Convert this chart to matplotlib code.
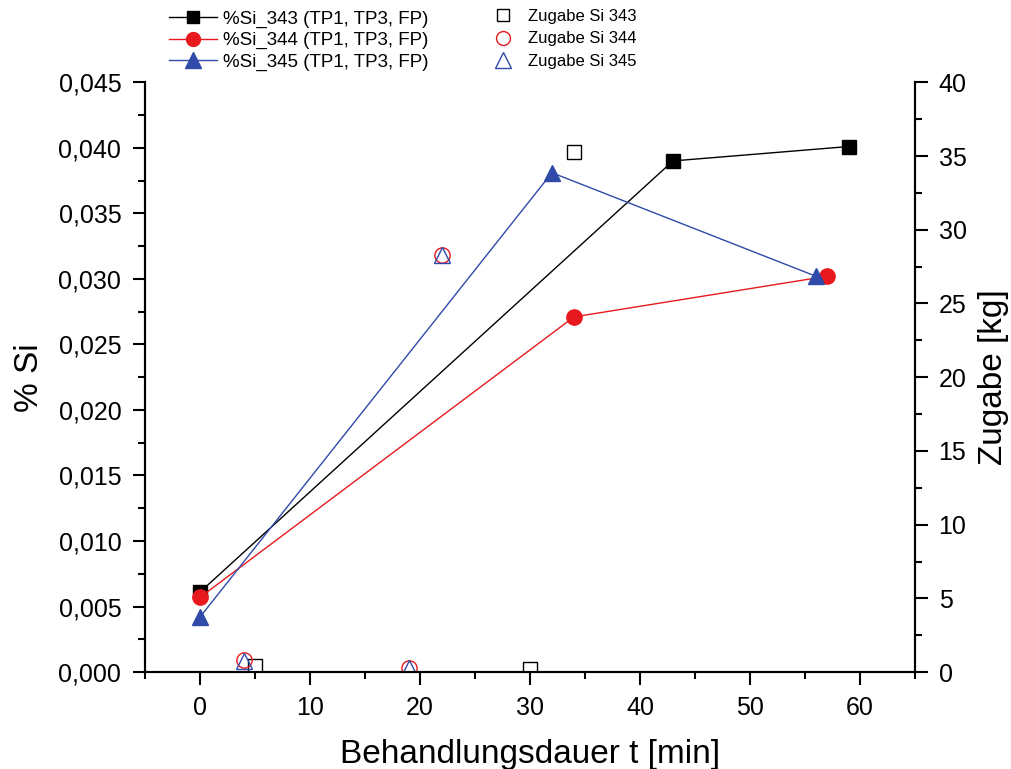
import numpy as np
import matplotlib
matplotlib.use("Agg")
import matplotlib.pyplot as plt
from matplotlib.ticker import FuncFormatter, MultipleLocator
from matplotlib.lines import Line2D

plt.rcParams['font.family'] = ['Liberation Sans', 'DejaVu Sans']

# %Si measurements (TP1, TP3, FP)
t_343 = [0, 43, 59]
si_343 = [0.0061, 0.0390, 0.0401]
t_344 = [0, 34, 57]
si_344 = [0.0057, 0.0271, 0.0302]
t_345 = [0, 32, 56]
si_345 = [0.0042, 0.0381, 0.0302]

# Si additions [kg]
tz_343 = [5, 30, 34]
z_343 = [0.4, 0.2, 35.3]
tz_344 = [4, 19, 22]
z_344 = [0.8, 0.3, 28.3]
tz_345 = [4, 19, 22]
z_345 = [0.75, 0.3, 28.3]

blue = '#2f4aa8'
red = '#e8191e'

fig = plt.figure(figsize=(10.11, 7.69), dpi=100)
ax = fig.add_axes([0.1434, 0.126, 0.7616, 0.767])
ax2 = ax.twinx()

ax.plot(t_343, si_343, '-s', color='black', lw=1, ms=10, zorder=3)
ax.plot(t_344, si_344, '-o', color=red, lw=1, ms=11, zorder=3)
ax.plot(t_345, si_345, '-^', color=blue, lw=1, ms=12, zorder=3)

ax2.plot(tz_343, z_343, 's', mfc='white', mec='black', mew=1, ms=10, ls='none')
ax2.plot(tz_344, z_344, 'o', mfc='none', mec=red, mew=1, ms=11, ls='none')
ax2.plot(tz_345, z_345, '^', mfc='none', mec=blue, mew=1, ms=12, ls='none')

ax.set_xlim(-5, 65)
ax.set_ylim(0, 0.045)
ax2.set_ylim(0, 40)

ax.xaxis.set_major_locator(MultipleLocator(10))
ax.xaxis.set_minor_locator(MultipleLocator(5))
ax.yaxis.set_major_locator(MultipleLocator(0.005))
ax.yaxis.set_minor_locator(MultipleLocator(0.0025))
ax2.yaxis.set_major_locator(MultipleLocator(5))
ax2.yaxis.set_minor_locator(MultipleLocator(2.5))
ax.yaxis.set_major_formatter(FuncFormatter(lambda v, p: f"{v:.3f}".replace('.', ',')))

for a in (ax, ax2):
    a.spines['top'].set_visible(False)
    for s in a.spines.values():
        s.set_linewidth(1.5)
    a.tick_params(which='major', direction='out', length=9, width=1.5, labelsize=18, pad=8)
    a.tick_params(which='minor', direction='out', length=5, width=1.5)

ax.set_xlabel('Behandlungsdauer t [min]', fontsize=24, labelpad=14)
ax.set_ylabel('% Si', fontsize=24, labelpad=10)
ax2.set_ylabel('Zugabe [kg]', fontsize=24, labelpad=8)

h1 = [Line2D([], [], color='black', marker='s', lw=1, ms=9),
      Line2D([], [], color=red, marker='o', lw=1, ms=10),
      Line2D([], [], color=blue, marker='^', lw=1, ms=11)]
l1 = ['%Si_343 (TP1, TP3, FP)', '%Si_344 (TP1, TP3, FP)', '%Si_345 (TP1, TP3, FP)']
h2 = [Line2D([], [], color='black', marker='s', mfc='none', ls='none', ms=9),
      Line2D([], [], color=red, marker='o', mfc='none', ls='none', ms=10),
      Line2D([], [], color=blue, marker='^', mfc='none', ls='none', ms=11)]
l2 = ['Zugabe Si 343', 'Zugabe Si 344', 'Zugabe Si 345']

leg1 = fig.legend(h1, l1, loc='upper left', bbox_to_anchor=(0.15, 1.008), frameon=False,
                  fontsize=13.5, handlelength=2.6, labelspacing=0.22, handletextpad=0.3)
leg2 = fig.legend(h2, l2, loc='upper left', bbox_to_anchor=(0.473, 1.008), frameon=False,
                  fontsize=12, handlelength=1.2, labelspacing=0.45, handletextpad=0.9)

fig.savefig('out.png', dpi=100)
